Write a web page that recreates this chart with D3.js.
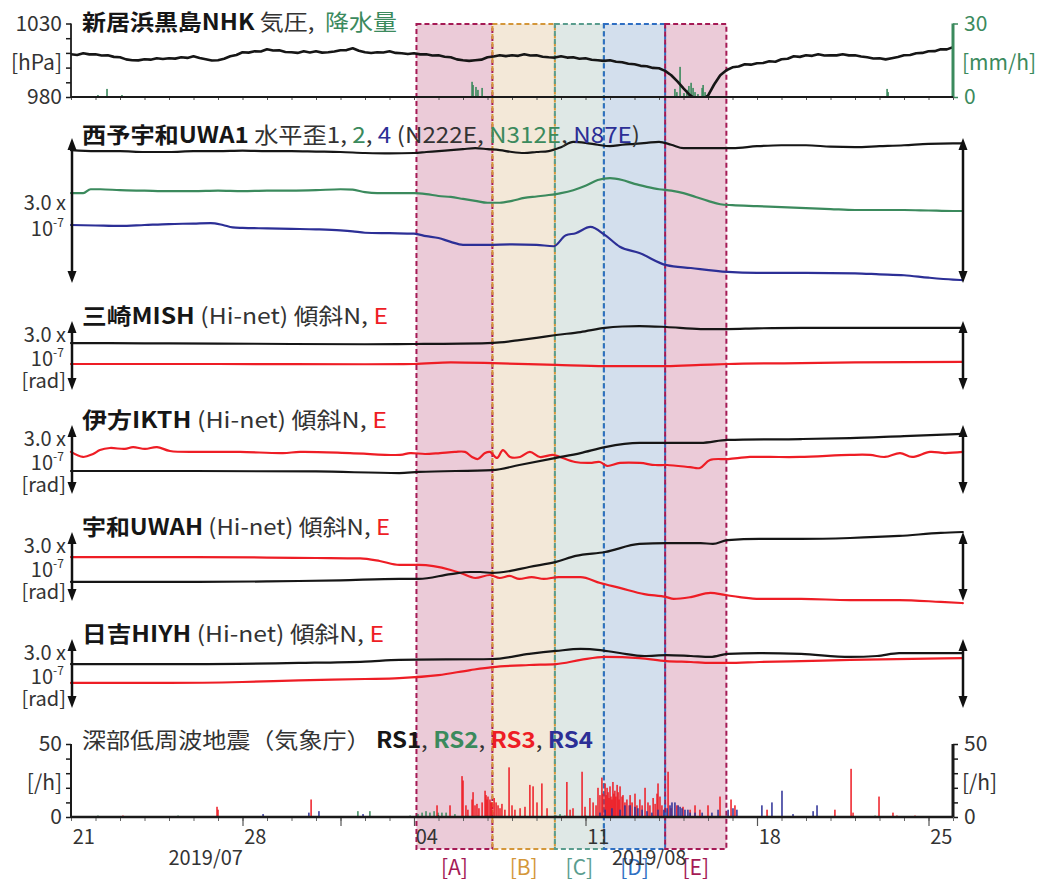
<!DOCTYPE html>
<html>
<head>
<meta charset="utf-8">
<script src="https://cdn.jsdelivr.net/npm/d3@7"></script>
<style>
  body { margin: 0; background: #fff; }
  text { font-family: "Noto Sans CJK JP", "Noto Sans", sans-serif; white-space: pre; }
</style>
</head>
<body>
<svg id="chart" width="1056" height="881"></svg>
<script>
// Time axis: days since 2019-07-21 00:00 (JST)
const dateLabels = ["21", "28", "04", "11", "18", "25"];
const dateLabelDays = [0, 7, 14, 21, 28, 35];
const majorTickDays = [7, 11, 14, 21, 28, 35];
const monthLabels = ["2019/07", "2019/08"];
const monthLabelDays = [5.5, 23.6];

// Analysis periods
const periodNames = ["[A]", "[B]", "[C]", "[D]", "[E]"];
const periodStart = [14.1, 17.2, 19.75, 21.75, 24.25];
const periodEnd   = [17.2, 19.75, 21.75, 24.25, 26.75];

// Niihama-Kuroshima (NHK): air pressure [hPa], one sample every 6 h from day 0
const pressureStepDays = 0.25;
const pressureHpa = [
  1009.1,1008.6,1009.8,1009.0,1009.1,1008.2,1008.4,1007.3,
  1007.0,1005.6,1005.0,1004.9,1005.7,1005.4,1006.4,1005.8,
  1006.4,1006.1,1007.0,1006.6,1007.7,1006.5,1005.7,1004.8,
  1005.0,1006.0,1007.7,1008.6,1010.4,1010.2,1011.1,1011.0,
  1012.5,1011.6,1011.8,1010.6,1010.4,1010.0,1011.1,1010.3,
  1011.1,1010.2,1010.4,1010.9,1011.8,1011.9,1013.2,1011.5,
  1010.4,1009.9,1010.4,1010.3,1011.1,1010.0,1009.8,1009.2,
  1009.8,1009.0,1009.1,1008.2,1008.4,1007.4,1007.0,1005.6,
  1005.0,1004.6,1005.0,1005.4,1007.0,1007.6,1008.4,1007.8,
  1008.4,1008.0,1009.1,1008.2,1008.4,1007.4,1007.0,1006.8,
  1007.7,1006.8,1007.0,1006.0,1006.4,1005.3,1005.0,1004.6,
  1005.0,1004.0,1003.6,1002.6,1002.3,1001.2,1000.9,999.8,
  999.6,997.8,994.8,990.6,985.9,981.5,978.5,978.0,
  981.0,988.5,994.8,998.2,1000.2,1000.8,1002.3,1002.0,
  1003.0,1003.1,1004.3,1004.0,1005.7,1006.0,1007.7,1007.3,
  1008.4,1008.0,1009.1,1008.2,1008.4,1008.3,1009.1,1008.3,
  1008.4,1007.6,1007.0,1006.2,1006.4,1005.6,1006.4,1007.2,
  1008.4,1008.6,1009.8,1010.0,1011.1,1011.2,1012.5,1012.4,
  1013.9
];

// Hourly precipitation [mm/h]: [day, value]
const rainMmH = [
  [1.10,0.8],[1.47,3.3],[2.08,0.8],[2.33,0.4],
  [16.37,6.2],[16.41,4.9],[16.53,4.1],[16.61,2.9],[16.78,3.7],
  [24.65,3.3],[24.73,2.0],[24.86,12.3],[25.02,1.6],[25.14,2.9],[25.22,4.5],
  [25.31,5.8],[25.39,3.7],[25.47,2.0],[25.59,1.2],[25.76,3.7],[25.80,4.9],
  [25.88,2.0],[25.96,0.8],[29.51,0.4],[33.31,3.3],[33.35,2.0],[33.96,0.4]
];

// Seiyo-Uwa UWA1 horizontal strain components 1, 2, 4 [x1e-7]: [day, value]
const strain1 = [
  [0,2.75],[1,2.73],[2,2.73],[3,2.71],[4,2.71],[5,2.73],[6,2.73],[7,2.74],[8,2.73],[9,2.73],
  [10,2.72],[11,2.71],[12,2.69],[13,2.68],[14,2.69],[14.5,2.71],[15,2.73],[15.5,2.75],[16,2.77],
  [16.5,2.79],[17,2.77],[17.5,2.75],[18,2.71],[18.5,2.69],[19,2.71],[19.5,2.73],[20,2.81],
  [20.5,2.92],[21,2.90],[21.5,2.86],[22,2.83],[22.5,2.86],[23,2.88],[23.5,2.90],[24,2.92],
  [24.5,2.86],[25,2.79],[26,2.79],[27,2.79],[28,2.83],[29,2.85],[30,2.85],[31,2.82],[32,2.81],
  [33,2.83],[34,2.85],[35,2.88],[36,2.89],[36.4,2.89]
];
const strain2 = [
  [0,1.86],[0.5,1.86],[0.8,1.94],[1.2,1.94],[2,1.92],[3,1.91],[4,1.90],[5,1.90],[6,1.91],
  [7,1.90],[8,1.91],[9,1.91],[10,1.92],[11,1.94],[11.5,1.93],[12,1.88],[12.5,1.86],[13,1.86],
  [14,1.86],[14.5,1.84],[15,1.80],[15.5,1.78],[16,1.74],[16.5,1.70],[17,1.66],[17.5,1.66],
  [18,1.70],[18.5,1.76],[19,1.79],[19.5,1.82],[20,1.86],[20.5,1.92],[21,2.01],[21.5,2.13],
  [22,2.17],[22.5,2.13],[23,2.05],[23.5,1.99],[24,1.94],[24.5,1.91],[25,1.86],[25.5,1.78],
  [26,1.70],[26.5,1.63],[27,1.61],[28,1.59],[29,1.57],[30,1.55],[31,1.53],[32,1.51],[33,1.51],
  [34,1.51],[35,1.50],[36,1.49],[36.4,1.49]
];
const strain4 = [
  [0,1.20],[1,1.19],[2,1.18],[3,1.20],[4,1.22],[5,1.23],[5.7,1.24],[6.2,1.20],[6.6,1.15],
  [7,1.14],[8,1.13],[9,1.12],[10,1.11],[11,1.09],[11.5,1.07],[12,1.04],[13,1.03],[14,1.02],
  [14.5,0.97],[15,0.93],[15.5,0.85],[16,0.79],[16.5,0.79],[17,0.79],[18,0.80],[19,0.79],
  [19.7,0.76],[20.2,0.99],[20.6,1.03],[21.2,1.16],[21.8,0.99],[22.4,0.75],[23.2,0.62],
  [24.3,0.37],[25.3,0.31],[26.8,0.23],[28,0.21],[30,0.21],[32,0.20],[33,0.18],[34,0.16],
  [35,0.11],[36,0.07],[36.4,0.06]
];

// Hi-net tiltmeters, N and E components [x1e-7 rad]: [day, value]
const mishN = [
  [0,2.04],[3,2.03],[6,2.02],[9,2.00],[12,1.99],[14,2.00],[17,2.04],[17.5,2.07],[18.3,2.17],
  [19,2.27],[19.8,2.39],[20.8,2.52],[21.8,2.70],[22.5,2.76],[23.2,2.78],[24.3,2.74],[25.7,2.65],
  [26.8,2.65],[28,2.68],[29.8,2.70],[32,2.70],[36.4,2.70]
];
const mishE = [
  [0,1.13],[6,1.13],[12,1.12],[14,1.13],[15.5,1.20],[17.2,1.17],[19.8,1.09],[21.8,1.04],
  [24.3,1.04],[25.7,1.09],[26.8,1.13],[29.8,1.17],[32,1.20],[36.4,1.22]
];
const ikthN = [
  [0,1.00],[5,1.00],[10,0.98],[13.4,0.91],[14.2,0.96],[17.2,1.04],[18.3,1.26],[19.8,1.57],
  [20.8,1.78],[21.8,2.04],[23.2,2.22],[24.3,2.22],[25.7,2.22],[26.8,2.35],[29.8,2.39],
  [31.8,2.43],[34,2.52],[36.4,2.61]
];
const ikthE = [
  [0,1.83],[0.49,1.61],[0.90,1.74],[1.18,1.91],[1.59,2.00],[2.20,1.96],[2.53,2.04],[3.02,1.96],
  [3.51,2.04],[4.04,1.87],[5.27,1.83],[6.90,1.83],[8.65,1.78],[9.35,1.83],[11.39,1.78],
  [13.43,1.70],[13.84,1.78],[14.45,1.74],[15.06,1.78],[15.67,1.83],[16.08,1.83],[16.37,1.61],
  [16.61,1.52],[16.90,1.78],[17.10,1.83],[17.39,1.57],[17.63,1.91],[17.92,1.61],[18.33,1.61],
  [18.73,1.83],[19.14,1.61],[19.67,1.70],[19.96,1.61],[20.57,1.39],[21.18,1.35],[21.59,1.39],
  [21.88,1.22],[22.41,1.35],[23.22,1.35],[23.84,1.26],[24.33,1.26],[25.27,1.17],[25.67,1.13],
  [26.08,1.48],[26.82,1.52],[27.71,1.61],[28.53,1.61],[29.76,1.61],[31.80,1.70],[32.61,1.70],
  [33.22,1.61],[33.84,1.78],[34.33,1.61],[35.06,1.83],[35.67,1.78],[36.41,1.83]
];
const uwahN = [
  [0,0.83],[4,0.83],[8,0.85],[9.3,0.87],[11,0.90],[13.4,0.96],[14.2,0.96],[15.5,1.17],
  [16.3,1.26],[16.7,1.26],[17.2,1.22],[17.9,1.30],[18.7,1.48],[19.8,1.70],[20.6,1.96],
  [21.8,2.13],[23.2,2.48],[24.3,2.52],[25.7,2.52],[26.2,2.48],[26.8,2.65],[28.1,2.70],
  [29.8,2.70],[31.8,2.74],[33.8,2.83],[35.5,2.96],[36.4,3.00]
];
const uwahE = [
  [0,1.91],[4,1.91],[8,1.89],[10,1.87],[11.8,1.85],[12.6,1.74],[13.4,1.57],[14.2,1.57],
  [15.5,1.35],[15.9,1.22],[16.5,1.00],[17.1,1.13],[17.5,1.00],[17.9,1.09],[18.3,0.96],
  [18.8,1.04],[19.3,0.96],[19.9,1.04],[20.8,1.04],[21.6,0.78],[22.4,0.57],[23.4,0.30],
  [24.3,0.17],[24.6,0.09],[25.3,0.17],[26.1,0.35],[26.7,0.26],[27.3,0.17],[28.1,0.09],
  [29.8,0.09],[31.8,0.04],[33.8,0.04],[35.5,-0.04],[36.4,-0.09]
];
const hiyhN = [
  [0,1.91],[5,1.91],[9.3,1.96],[12,2.02],[13.4,2.09],[17.2,2.13],[18.7,2.35],[19.8,2.48],
  [20.8,2.57],[21.6,2.52],[22.4,2.39],[23.4,2.26],[24.3,2.30],[25.3,2.26],[26.1,2.22],
  [26.8,2.35],[28.1,2.39],[29.8,2.35],[31.8,2.22],[32.9,2.26],[33.8,2.39],[36.4,2.39]
];
const hiyhE = [
  [0,1.09],[4,1.09],[7,1.13],[9.3,1.20],[12,1.26],[13.4,1.30],[15,1.43],[16.3,1.65],
  [17.2,1.78],[18.7,1.87],[19.8,1.91],[20.8,2.09],[21.8,2.22],[23.2,2.17],[24.3,2.04],
  [25.3,2.00],[26.1,1.96],[26.8,1.96],[28.1,2.00],[29.8,2.04],[31.8,2.09],[36.4,2.17]
];

// Deep low-frequency tremor counts per hour (JMA), by source region: [day, count]
const rs1Hourly = [[15.0,1],[21.0,1]];
const rs2Hourly = [
  [1.10,1],[4.37,1],[11.71,4],[12.20,4],[13.84,1],[14.16,2],[14.33,3],[14.49,4],[14.65,3],
  [14.82,4],[14.98,3],[15.14,3],[15.31,3],[15.67,2],[16.61,1],[18.53,1],[19.80,1],[19.96,2],
  [20.16,1],[32.82,1]
];
const rs3Hourly = [
  [2.12,1],[5.96,7],[6.00,5],[9.80,12],[14.94,8],[15.47,8],[15.96,28],[16.00,25],[16.12,8],
  [16.20,5],[16.37,12],[16.41,17],[16.49,8],[16.57,9],[16.65,6],[16.78,10],[16.90,18],[16.94,15],
  [16.98,12],[17.02,14],[17.10,12],[17.14,10],[17.18,10],[17.27,13],[17.35,10],[17.43,8],
  [17.51,6],[17.59,9],[17.71,5],[17.88,34],[18.00,8],[18.12,5],[18.33,6],[18.53,7],[18.73,22],
  [18.86,21],[19.02,10],[19.22,23],[19.43,6],[20.24,24],[20.37,5],[20.49,6],[20.86,31],[20.98,7],
  [21.18,13],[21.31,10],[21.43,8],[21.51,20],[21.59,15],[21.67,27],[21.71,16],[21.80,23],
  [21.84,15],[21.88,20],[21.92,17],[21.96,13],[22.00,21],[22.04,14],[22.08,12],[22.12,24],
  [22.16,16],[22.20,18],[22.24,14],[22.29,22],[22.33,17],[22.37,12],[22.41,21],[22.49,14],
  [22.53,15],[22.61,10],[22.69,12],[22.78,8],[22.82,15],[22.90,10],[23.02,16],[23.10,8],
  [23.22,12],[23.31,8],[23.43,20],[23.55,10],[23.63,8],[23.76,13],[23.84,9],[23.92,16],
  [23.96,23],[24.04,14],[24.12,8],[24.37,31],[24.49,6],[24.73,8],[24.98,7],[25.27,5],[25.47,8],
  [25.67,5],[26.00,8],[26.49,14],[26.94,12],[27.10,8],[28.41,5],[31.18,5],[31.84,33],[31.92,3],
  [32.98,14],[33.55,3],[33.71,1],[34.45,1]
];
const rs4Hourly = [
  [7.84,2],[9.71,3],[10.12,4],[11.92,2],[21.59,3],[21.80,5],[22.08,6],[22.41,5],[22.61,8],
  [22.82,8],[23.02,7],[23.14,6],[23.31,5],[23.51,4],[23.71,3],[23.96,5],[24.20,5],[24.33,6],
  [24.45,8],[24.53,10],[24.65,10],[24.78,8],[24.86,7],[24.94,6],[25.06,5],[25.18,5],[25.27,3],
  [25.47,3],[25.76,3],[26.16,3],[26.41,5],[26.82,5],[27.02,6],[27.18,5],[28.20,8],[28.61,10],
  [29.02,18],[29.47,2],[30.29,4],[30.45,8]
];

// ---------------------------------------------------------------------------
const C = {
  black: "#161616", green: "#3b8a5d", blue: "#2c2f96", red: "#ee1d25",
  text: "#333333", axis: "#1a1a1a",
  boxStroke: ["#a51a55", "#d4973a", "#5a9d8e", "#2f6fc3", "#a51a55"],
  boxFill:   ["#ebcbd8", "#f3e8d8", "#dfe8e6", "#d3dfed", "#ebcbd8"]
};
const FONT_TITLE = 22, FONT_LABEL = 20;

const svg = d3.select("#chart");
const x = d3.scaleLinear().domain([0, 36]).range([71, 953]);

const P = {
  pres: { top: 23.5, bottom: 97 },
  uwa1: { top: 138, bottom: 283 },
  mish: { top: 321, bottom: 390 },
  ikth: { top: 425, bottom: 494 },
  uwah: { top: 532, bottom: 601 },
  hiyh: { top: 639, bottom: 708 },
  lfe:  { top: 744, bottom: 817 },
  box:  { top: 24, bottom: 849 }
};

// ---- period shading (behind everything) ----
const gBox = svg.append("g");
periodNames.forEach((name, i) => {
  const x0 = x(periodStart[i]), x1 = x(periodEnd[i]);
  gBox.append("rect")
    .attr("x", x0).attr("y", P.box.top)
    .attr("width", x1 - x0).attr("height", P.box.bottom - P.box.top)
    .attr("fill", C.boxFill[i]);
});
const gBoxLines = svg.append("g");
periodNames.forEach((name, i) => {
  const x0 = x(periodStart[i]), x1 = x(periodEnd[i]);
  gBoxLines.append("rect")
    .attr("x", x0).attr("y", P.box.top)
    .attr("width", x1 - x0).attr("height", P.box.bottom - P.box.top)
    .attr("fill", "none").attr("stroke", C.boxStroke[i])
    .attr("stroke-width", 2).attr("stroke-dasharray", "5,3");
  gBoxLines.append("text")
    .attr("x", (x0 + x1) / 2).attr("y", 866)
    .attr("text-anchor", "middle").attr("dominant-baseline", "central")
    .attr("font-size", 21).attr("fill", C.boxStroke[i])
    .text(name);
});

// ---- helpers ----
function title(y, width, parts) {
  const t = svg.append("text").attr("x", 82).attr("y", y)
    .attr("dominant-baseline", "central").attr("font-size", FONT_TITLE)
    .attr("textLength", width).attr("lengthAdjust", "spacingAndGlyphs");
  parts.forEach(p => t.append("tspan").text(p[0])
    .attr("fill", p[1] || C.text).attr("font-weight", p[2] ? 700 : 400));
}
function label(xp, y, txt, anchor, color) {
  return svg.append("text").attr("x", xp).attr("y", y)
    .attr("text-anchor", anchor || "end").attr("dominant-baseline", "central")
    .attr("font-size", FONT_LABEL).attr("fill", color || C.text).text(txt);
}
// "10" with a raised "-7" exponent, right edge at xp
function powerLabel(xp, y) {
  svg.append("text").attr("x", xp - 13).attr("y", y)
    .attr("text-anchor", "end").attr("dominant-baseline", "central")
    .attr("font-size", FONT_LABEL).attr("fill", C.text).text("10");
  svg.append("text").attr("x", xp - 13).attr("y", y - 6)
    .attr("text-anchor", "start").attr("dominant-baseline", "central")
    .attr("font-size", 12).attr("fill", C.text).text("-7");
}
function dblArrow(xp, top, bottom) {
  const g = svg.append("g").attr("fill", "#111");
  g.append("line").attr("x1", xp).attr("x2", xp).attr("y1", top + 6).attr("y2", bottom - 6)
    .attr("stroke", "#111").attr("stroke-width", 2.5);
  g.append("path").attr("d", `M${xp},${top} L${xp - 4.5},${top + 12} L${xp + 4.5},${top + 12}Z`);
  g.append("path").attr("d", `M${xp},${bottom} L${xp - 4.5},${bottom - 12} L${xp + 4.5},${bottom - 12}Z`);
}
function series(data, yScale, color, width, curve) {
  svg.append("path").datum(data)
    .attr("fill", "none").attr("stroke", color).attr("stroke-width", width || 2.2)
    .attr("stroke-linejoin", "round").attr("stroke-linecap", "round")
    .attr("d", d3.line().x(d => x(d[0])).y(d => yScale(d[1])).curve(curve || d3.curveMonotoneX));
}
function styleAxis(g, size) {
  g.select(".domain").remove();
  g.selectAll("text").attr("font-size", size || FONT_LABEL).attr("fill", C.text)
    .attr("font-family", "\"Noto Sans CJK JP\", sans-serif");
}

// ---- panel 1: pressure and rain ----
const yPres = d3.scaleLinear().domain([980, 1030]).range([P.pres.bottom, P.pres.top]);
const yRain = d3.scaleLinear().domain([0, 30]).range([P.pres.bottom, P.pres.top]);

svg.append("defs").append("clipPath").attr("id", "presClip")
  .append("rect").attr("x", 71).attr("y", P.pres.top).attr("width", 882).attr("height", P.pres.bottom - P.pres.top);

svg.append("g").selectAll("rect").data(rainMmH).join("rect")
  .attr("x", d => x(d[0]) - 0.8).attr("width", 1.6)
  .attr("y", d => yRain(d[1])).attr("height", d => yRain(0) - yRain(d[1]))
  .attr("fill", C.green);

svg.append("path").datum(pressureHpa.map((v, i) => [i * pressureStepDays, v]))
  .attr("clip-path", "url(#presClip)")
  .attr("fill", "none").attr("stroke", C.black).attr("stroke-width", 2.6)
  .attr("stroke-linejoin", "round")
  .attr("d", d3.line().x(d => x(d[0])).y(d => yPres(d[1])));

// left pressure axis
const gPresAxis = svg.append("g").attr("transform", "translate(71,0)")
  .call(d3.axisLeft(yPres).tickValues(d3.range(980, 1031, 10)).tickSize(5).tickPadding(4)
    .tickFormat(d => (d === 980 || d === 1030) ? d : ""));
styleAxis(gPresAxis, 21);
gPresAxis.selectAll("line").attr("stroke", C.axis).attr("stroke-width", 1.5);
svg.append("line").attr("x1", 71).attr("x2", 71).attr("y1", P.pres.top).attr("y2", P.pres.bottom)
  .attr("stroke", C.axis).attr("stroke-width", 1.8);
label(62, 61, "[hPa]").attr("font-size", 21);

// right rain axis
const gRainAxis = svg.append("g").attr("transform", "translate(953,0)")
  .call(d3.axisRight(yRain).tickValues([0, 30]).tickSize(5).tickPadding(6));
styleAxis(gRainAxis, 21);
gRainAxis.selectAll("text").attr("fill", C.green);
gRainAxis.selectAll("line").attr("stroke", C.green).attr("stroke-width", 1.5);
svg.append("line").attr("x1", 953).attr("x2", 953).attr("y1", P.pres.top).attr("y2", P.pres.bottom)
  .attr("stroke", C.green).attr("stroke-width", 3);
label(962, 61, "[mm/h]", "start", C.green).attr("font-size", 21);

// bottom time axis of panel 1
const gPresTime = svg.append("g").attr("transform", `translate(0,${P.pres.bottom})`)
  .call(d3.axisBottom(x).tickValues(d3.range(0, 37)).tickSize(3).tickFormat(""));
gPresTime.select(".domain").remove();
gPresTime.selectAll("line").attr("stroke", "#555");
svg.append("line").attr("x1", 71).attr("x2", 953).attr("y1", P.pres.bottom).attr("y2", P.pres.bottom)
  .attr("stroke", C.axis).attr("stroke-width", 2);

title(20, 315, [["新居浜黒島NHK", C.black, true], [" 気圧,  ", C.text], ["降水量", C.green]]);

// ---- panel 2: UWA1 strain ----
const yStrain = d3.scaleLinear().domain([0, 3]).range([P.uwa1.bottom, P.uwa1.top]);
series(strain1, yStrain, C.black);
series(strain2, yStrain, C.green);
series(strain4, yStrain, C.blue);
dblArrow(72, P.uwa1.top, P.uwa1.bottom);
dblArrow(963, P.uwa1.top, P.uwa1.bottom);
label(66, 201, "3.0 x");
powerLabel(66, 227);
title(133, 558, [["西予宇和UWA1", C.black, true], [" 水平歪1, ", C.text], ["2", C.green], [", ", C.text],
  ["4", C.blue], [" (N222E, ", C.text], ["N312E", C.green], [", ", C.text], ["N87E", C.blue], [")", C.text]]);

// ---- tilt panels ----
const tiltPanels = [
  { key: "mish", name: "三崎MISH", n: mishN, e: mishE, titleWidth: 306 },
  { key: "ikth", name: "伊方IKTH", n: ikthN, e: ikthE, titleWidth: 305 },
  { key: "uwah", name: "宇和UWAH", n: uwahN, e: uwahE, titleWidth: 308 },
  { key: "hiyh", name: "日吉HIYH", n: hiyhN, e: hiyhE, titleWidth: 302 }
];
tiltPanels.forEach(tp => {
  const box = P[tp.key];
  const yT = d3.scaleLinear().domain([0, 3]).range([box.bottom, box.top]);
  series(tp.e, yT, C.red, 2.2, tp.key === "ikth" ? d3.curveCatmullRom : d3.curveMonotoneX);
  series(tp.n, yT, C.black);
  dblArrow(72, box.top, box.bottom);
  dblArrow(963, box.top, box.bottom);
  label(66, box.top + 12, "3.0 x");
  powerLabel(66, box.top + 36);
  label(66, box.top + 58, "[rad]");
  title(box.top - 7, tp.titleWidth, [[tp.name, C.black, true], [" (Hi-net) 傾斜N, ", C.text], ["E", C.red]]);
});

// ---- bottom panel: tremor counts ----
const yLfe = d3.scaleLinear().domain([0, 50]).range([P.lfe.bottom, P.lfe.top]);
[[rs2Hourly, C.green], [rs1Hourly, C.black], [rs3Hourly, C.red], [rs4Hourly, C.blue]].forEach(([data, color]) => {
  svg.append("g").selectAll("rect").data(data).join("rect")
    .attr("x", d => x(d[0]) - 0.75).attr("width", 1.5)
    .attr("y", d => yLfe(d[1])).attr("height", d => yLfe(0) - yLfe(d[1]))
    .attr("fill", color);
});

const gLfeLeft = svg.append("g").attr("transform", "translate(71,0)")
  .call(d3.axisLeft(yLfe).tickValues(d3.range(0, 51, 10)).tickSize(5).tickPadding(4)
    .tickFormat(d => (d === 0 || d === 50) ? d : ""));
styleAxis(gLfeLeft, 21);
gLfeLeft.selectAll("line").attr("stroke", C.axis).attr("stroke-width", 1.5);
svg.append("line").attr("x1", 71).attr("x2", 71).attr("y1", P.lfe.top).attr("y2", P.lfe.bottom)
  .attr("stroke", C.axis).attr("stroke-width", 2);
label(62, 781, "[/h]").attr("font-size", 21);

const gLfeRight = svg.append("g").attr("transform", "translate(953,0)")
  .call(d3.axisRight(yLfe).tickValues(d3.range(0, 51, 10)).tickSize(5).tickPadding(6)
    .tickFormat(d => (d === 0 || d === 50) ? d : ""));
styleAxis(gLfeRight, 21);
gLfeRight.selectAll("line").attr("stroke", C.axis).attr("stroke-width", 1.5);
svg.append("line").attr("x1", 953).attr("x2", 953).attr("y1", P.lfe.top).attr("y2", P.lfe.bottom)
  .attr("stroke", C.axis).attr("stroke-width", 3);
label(962, 781, "[/h]", "start").attr("font-size", 21);

// time axis
const gDaily = svg.append("g").attr("transform", `translate(0,${P.lfe.bottom})`)
  .call(d3.axisBottom(x).tickValues(d3.range(0, 37)).tickSize(4).tickFormat(""));
gDaily.select(".domain").remove();
gDaily.selectAll("line").attr("stroke", "#666");
const gMajor = svg.append("g").attr("transform", `translate(0,${P.lfe.bottom})`)
  .call(d3.axisBottom(x).tickValues(majorTickDays).tickSize(9).tickFormat(""));
gMajor.select(".domain").remove();
gMajor.selectAll("line").attr("stroke", "#555").attr("stroke-width", 1.2);
svg.append("line").attr("x1", 71).attr("x2", 953).attr("y1", P.lfe.bottom).attr("y2", P.lfe.bottom)
  .attr("stroke", C.axis).attr("stroke-width", 2.5);

const gDates = svg.append("g").attr("transform", `translate(0,${P.lfe.bottom})`)
  .call(d3.axisBottom(x).tickValues(dateLabelDays.map(d => d + 0.5)).tickSize(0).tickPadding(13)
    .tickFormat((d, i) => dateLabels[i]));
styleAxis(gDates, 20);
gDates.selectAll("text").attr("dy", "0.71em");

monthLabels.forEach((m, i) => {
  svg.append("text").attr("x", x(monthLabelDays[i])).attr("y", 856)
    .attr("text-anchor", "middle").attr("dominant-baseline", "central")
    .attr("font-size", 20).attr("fill", C.text).text(m);
});

title(738, 511, [["深部低周波地震（気象庁） ", C.text], ["RS1", C.black, true], [", ", C.text],
  ["RS2", C.green, true], [", ", C.text], ["RS3", C.red, true], [", ", C.text], ["RS4", C.blue, true]]);
</script>
</body>
</html>
